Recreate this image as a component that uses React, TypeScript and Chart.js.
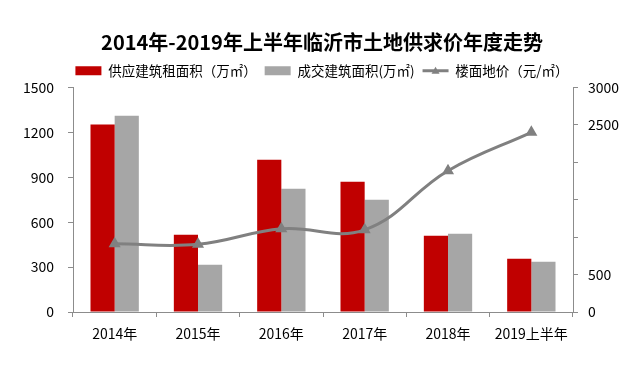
import React, { useEffect, useRef } from "react";
import { Chart, registerables } from "chart.js";

Chart.register(...registerables);

const categories = ["2014年", "2015年", "2016年", "2017年", "2018年", "2019上半年"];
const supplyArea = [1252, 516, 1018, 871, 509, 355];
const dealArea = [1312, 315, 824, 750, 522, 335];
const landPrice = [911, 905, 1112, 1098, 1888, 2401];
const leftTicksShown = [0, 300, 600, 900, 1200, 1500];
const rightTicksShown = [0, 500, 2500, 3000];

const FONT = '"Microsoft YaHei", "Noto Sans CJK SC", "Noto Sans", sans-serif';
const RED = "#C00000";
const GRAY = "#A6A6A6";
const LINE = "#808080";
const AXIS = "#8C8C8C";

const legendLinePlugin = {
  id: "legendLinePlugin",
  afterDraw(chart: any) {
    const legend = chart.legend;
    if (!legend || !legend.legendHitBoxes || !legend.legendItems) return;
    const idx = legend.legendItems.findIndex((it: any) => it.datasetIndex === 2);
    const hb = legend.legendHitBoxes[idx];
    if (!hb) return;
    const ctx = chart.ctx;
    const cy = hb.top + hb.height / 2;
    const x0 = hb.left;
    const x1 = hb.left + 26;
    ctx.save();
    ctx.strokeStyle = LINE;
    ctx.lineWidth = 3;
    ctx.beginPath();
    ctx.moveTo(x0, cy);
    ctx.lineTo(x1, cy);
    ctx.stroke();
    const mx = (x0 + x1) / 2;
    ctx.fillStyle = LINE;
    ctx.beginPath();
    ctx.moveTo(mx, cy - 4);
    ctx.lineTo(mx + 4, cy + 3);
    ctx.lineTo(mx - 4, cy + 3);
    ctx.closePath();
    ctx.fill();
    ctx.restore();
  },
};

export default function App() {
  const ref = useRef<HTMLCanvasElement | null>(null);
  useEffect(() => {
    if (!ref.current) return;
    Chart.defaults.font.family = FONT;
    const chart = new Chart(ref.current, {
      type: "bar",
      data: {
        labels: categories,
        datasets: [
          {
            type: "bar",
            label: "供应建筑租面积（万㎡）",
            data: supplyArea,
            backgroundColor: RED,
            yAxisID: "y",
            order: 2,
          },
          {
            type: "bar",
            label: "成交建筑面积(万㎡)",
            data: dealArea,
            backgroundColor: GRAY,
            yAxisID: "y",
            order: 2,
          },
          {
            type: "line",
            label: "楼面地价（元/㎡）",
            data: landPrice,
            borderColor: LINE,
            backgroundColor: LINE,
            borderWidth: 3,
            tension: 0.4,
            pointStyle: "triangle",
            pointRadius: 4,
            pointBackgroundColor: LINE,
            pointBorderColor: LINE,
            yAxisID: "y1",
            order: 1,
          } as any,
        ],
      },
      options: {
        responsive: false,
        animation: false,
        layout: { padding: { left: 0, right: 0, top: 0, bottom: 0 } },
        datasets: {
          bar: { categoryPercentage: 0.58, barPercentage: 1 },
        } as any,
        plugins: {
          title: {
            display: true,
            text: "2014年-2019年上半年临沂市土地供求价年度走势",
            font: { size: 20, weight: "bold", family: FONT },
            color: "#000",
            padding: { top: 30, bottom: 2 },
          },
          legend: {
            display: true,
            labels: {
              font: { size: 13.5, family: FONT },
              color: "#000",
              boxWidth: 26,
              boxHeight: 9,
              padding: 8,
              sort: (a: any, b: any) => a.datasetIndex - b.datasetIndex,
              generateLabels: (c: any) => {
                const items = Chart.defaults.plugins.legend.labels.generateLabels(c);
                items.forEach((it: any) => {
                  if (it.datasetIndex === 2) {
                    it.fillStyle = "rgba(0,0,0,0)";
                    it.strokeStyle = "rgba(0,0,0,0)";
                  }
                  it.lineWidth = 0;
                });
                return items;
              },
            },
          },
          tooltip: { enabled: false },
        },
        scales: {
          x: {
            grid: {
              display: true,
              drawOnChartArea: false,
              tickLength: 5,
              color: AXIS,
              offset: true,
            },
            border: { color: AXIS },
            ticks: { font: { size: 14, family: FONT }, color: "#000", padding: 8 },
            afterFit: (s: any) => {
              s.height = 59;
            },
          },
          y: {
            position: "left",
            min: 0,
            max: 1500,
            afterBuildTicks: (s: any) => {
              s.ticks = leftTicksShown.map((v) => ({ value: v }));
            },
            grid: { drawOnChartArea: false, tickLength: 5, color: AXIS },
            border: { color: AXIS },
            ticks: {
              font: { size: 14, family: FONT },
              color: "#000",
              padding: 14,
              callback: (v: any) => String(v),
            },
            afterFit: (s: any) => {
              s.width = 73;
            },
          },
          y1: {
            position: "right",
            min: 0,
            max: 3000,
            ticks: {
              stepSize: 500,
              font: { size: 14, family: FONT },
              color: "#000",
              padding: 10,
              callback: (v: any) => (rightTicksShown.includes(Number(v)) ? String(v) : ""),
            },
            grid: { drawOnChartArea: false, tickLength: 5, color: AXIS },
            border: { color: AXIS },
            afterFit: (s: any) => {
              s.width = 71;
            },
          },
        },
      },
      plugins: [legendLinePlugin],
    });
    return () => chart.destroy();
  }, []);
  return (
    <div style={{ position: "absolute", left: 0, top: 0, width: 644, height: 371, background: "#fff" }}>
      <canvas ref={ref} width={644} height={371} />
    </div>
  );
}
